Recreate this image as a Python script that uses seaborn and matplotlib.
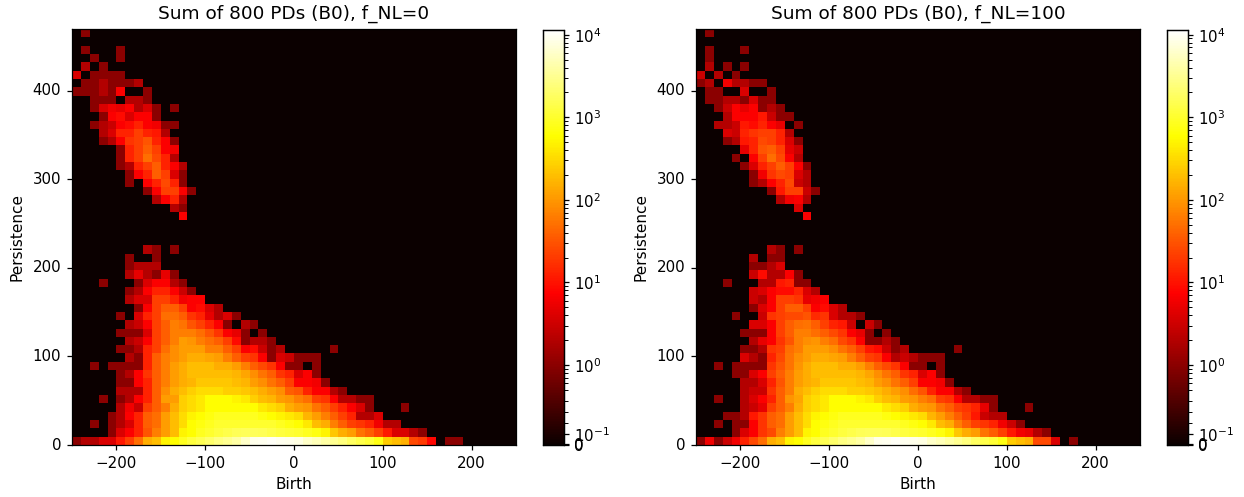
import numpy as np
import pandas as pd
import seaborn as sns
import matplotlib
matplotlib.use('Agg')
import matplotlib.pyplot as plt
from matplotlib.colors import SymLogNorm
from matplotlib.ticker import FixedLocator

n_bins = 50
birth_edges = np.arange(-250, 251, 10)
pers_max = 470

x_ticks = [-200, -100, 0, 100, 200]
y_ticks = [0, 100, 200, 300, 400]
titles = ['Sum of 800 PDs (B0), f_NL=0', 'Sum of 800 PDs (B0), f_NL=100']
# 0 shows up twice in the reference, slightly apart
cbar_ticks = [0, 0.005, 0.1, 1, 10, 100, 1000, 10000]
cbar_labels = ['0', '0', '$\\mathdefault{10^{-1}}$', '$\\mathdefault{10^{0}}$', '$\\mathdefault{10^{1}}$',
               '$\\mathdefault{10^{2}}$', '$\\mathdefault{10^{3}}$', '$\\mathdefault{10^{4}}$']

# summed counts, rows listed from the top of the plot: (first column, values)
counts_fnl0 = [
    (1, [1]), (0, []), (1, [1, 0, 0, 0, 1]), (2, [1, 0, 0, 1]), (1, [2, 0, 1]),
    (0, [4, 0, 1, 1, 1, 1]),
    (1, [1, 1, 2, 1, 1, 1, 2]),
    (0, [1, 1, 1, 2, 1, 7, 0, 0, 1]),
    (2, [1, 1, 1, 0, 2, 2, 1]),
    (2, [1, 4, 6, 5, 7, 2, 4, 1, 0, 1]),
    (3, [1, 7, 9, 4, 7, 7, 1]),
    (2, [1, 2, 3, 7, 9, 13, 7, 6, 1, 1]),
    (3, [2, 4, 13, 13, 22, 13, 11, 2]),
    (3, [1, 2, 7, 18, 22, 32, 13, 7, 1]),
    (5, [1, 13, 22, 38, 22, 7, 6]),
    (5, [1, 13, 22, 50, 26, 13, 2]),
    (5, [1, 2, 13, 22, 38, 13, 7, 2]),
    (6, [1, 7, 13, 38, 22, 4, 1]),
    (6, [1, 0, 7, 13, 26, 13, 1]),
    (8, [1, 7, 22, 22, 7, 1]),
    (9, [2, 7, 13, 2]),
    (11, [2, 1]),
    (12, [7]),
    (0, []), (0, []), (0, []),
    (8, [2, 1, 0, 1]),
    (6, [1, 0, 0, 1]),
    (6, [1, 2, 2, 2]),
    (6, [2, 5, 2, 1, 5, 1]),
    (3, [1, 0, 0, 0, 1, 4, 7, 7, 2, 1]),
    (6, [1, 2, 7, 13, 13, 7, 3, 1]),
    (6, [2, 4, 4, 22, 22, 13, 6, 7, 7]),
    (7, [1, 7, 22, 38, 38, 22, 7, 9, 4, 2]),
    (5, [1, 0, 4, 13, 22, 50, 50, 38, 18, 13, 5, 2, 4, 1]),
    (6, [2, 3, 7, 22, 38, 65, 55, 32, 22, 13, 7, 1, 0, 2, 1]),
    (5, [1, 1, 1, 4, 22, 38, 65, 65, 65, 50, 32, 18, 7, 5, 1, 0, 1]),
    (6, [2, 3, 7, 22, 38, 65, 112, 95, 65, 50, 38, 22, 9, 1, 2, 2, 1]),
    (5, [1, 1, 2, 13, 22, 50, 85, 112, 112, 112, 65, 65, 38, 22, 7, 9, 3, 1, 2, 0, 0, 0, 0, 0, 1]),
    (6, [2, 1, 13, 38, 65, 85, 112, 148, 148, 125, 112, 65, 38, 22, 18, 7, 1, 4, 3, 1, 1, 1]),
    (2, [1, 0, 1, 1, 1, 1, 13, 38, 65, 112, 148, 193, 193, 193, 148, 148, 112, 65, 38, 26, 18, 7, 1, 1, 0, 1]),
    (5, [1, 2, 7, 18, 38, 65, 112, 148, 193, 193, 193, 193, 193, 170, 125, 85, 55, 38, 18, 13, 4, 7, 1]),
    (5, [1, 1, 7, 13, 38, 65, 112, 148, 170, 225, 225, 225, 225, 193, 170, 112, 85, 55, 38, 22, 7, 7, 6, 1]),
    (5, [2, 2, 2, 13, 38, 85, 148, 193, 257, 335, 335, 335, 257, 257, 225, 193, 148, 112, 85, 38, 32, 13, 7, 7, 2, 1]),
    (3, [1, 0, 1, 2, 7, 13, 38, 112, 112, 257, 335, 420, 582, 582, 582, 500, 420, 257, 193, 170, 112, 95, 65, 50, 22, 18, 7, 2, 2, 1, 1]),
    (5, [2, 6, 3, 22, 38, 65, 148, 257, 335, 420, 582, 582, 582, 582, 582, 582, 420, 335, 257, 148, 112, 95, 55, 38, 22, 13, 7, 4, 1, 0, 0, 0, 1]),
    (4, [1, 2, 7, 13, 38, 50, 112, 193, 335, 500, 582, 700, 840, 840, 840, 840, 840, 700, 582, 500, 420, 335, 170, 112, 65, 38, 22, 13, 2, 2, 4]),
    (2, [1, 0, 1, 2, 4, 13, 38, 50, 112, 193, 335, 582, 700, 840, 1000, 1000, 1000, 1000, 1000, 1000, 1000, 840, 700, 582, 420, 193, 148, 65, 38, 22, 18, 13, 6, 2, 2]),
    (4, [1, 4, 7, 13, 32, 65, 112, 193, 500, 582, 840, 1000, 1216, 1400, 1600, 1700, 1700, 1600, 1400, 1216, 1100, 1000, 840, 700, 500, 225, 148, 112, 55, 38, 22, 11, 4, 4, 2, 1]),
    (0, [1, 2, 2, 4, 4, 11, 22, 50, 148, 193, 500, 582, 840, 1216, 1500, 2000, 2600, 3200, 4000, 6000, 9000, 9500, 10000, 9500, 9000, 8000, 6000, 5000, 4000, 3200, 2500, 1800, 1400, 1100, 750, 250, 190, 150, 26, 20, 8, 0, 1, 1]),
]

counts_fnl100 = [
    (1, [1]), (0, []), (1, [1, 0, 0, 0, 1]), (1, [1]), (1, [2, 0, 1, 0, 1]),
    (0, [3, 0, 2, 0, 1]),
    (0, [1, 2, 0, 6, 2, 2, 1, 1]),
    (1, [1, 1, 0, 0, 4, 0, 0, 1]),
    (1, [1, 1, 2, 2, 1, 4, 1, 1]),
    (2, [1, 3, 7, 5, 7, 1, 2, 1]),
    (3, [2, 7, 7, 7, 11, 3, 1, 1]),
    (2, [2, 2, 3, 11, 9, 13, 7, 5, 0, 1]),
    (3, [4, 3, 13, 18, 22, 22, 13, 2]),
    (3, [1, 2, 11, 13, 26, 22, 13, 4, 1]),
    (5, [5, 13, 32, 38, 22, 5, 3]),
    (4, [1, 0, 7, 22, 50, 26, 7, 2]),
    (5, [1, 4, 13, 22, 38, 22, 7, 1]),
    (6, [1, 6, 18, 26, 22, 4, 2]),
    (6, [1, 2, 7, 13, 26, 3, 2]),
    (8, [1, 11, 22, 22, 3, 1]),
    (9, [2, 6, 7, 2]),
    (11, [4]),
    (12, [7]),
    (0, []), (0, []), (0, []),
    (8, [2, 1, 0, 1]),
    (6, [2, 0, 1, 1]),
    (6, [1, 1, 2, 4]),
    (6, [3, 9, 2, 2, 7, 1]),
    (3, [1, 0, 0, 0, 2, 2, 11, 13, 1, 1]),
    (6, [3, 4, 7, 9, 9, 13, 4, 2]),
    (6, [3, 2, 7, 22, 22, 18, 5, 6, 7]),
    (6, [1, 4, 7, 22, 38, 38, 22, 7, 9, 4, 2]),
    (4, [1, 0, 0, 3, 18, 22, 26, 26, 32, 15, 18, 4, 2, 2, 1]),
    (6, [4, 4, 7, 22, 38, 50, 55, 38, 22, 13, 11, 3, 0, 3, 1]),
    (5, [1, 1, 1, 7, 22, 38, 65, 65, 50, 38, 26, 18, 7, 5, 1, 0, 1]),
    (6, [2, 5, 7, 18, 32, 65, 85, 95, 65, 50, 26, 18, 7, 1, 1, 2, 1]),
    (5, [1, 1, 2, 18, 22, 50, 65, 112, 112, 112, 85, 55, 38, 22, 11, 9, 3, 1, 2, 0, 0, 0, 0, 0, 1]),
    (5, [4, 2, 1, 13, 26, 55, 85, 112, 148, 148, 125, 112, 65, 38, 22, 18, 7, 2, 3, 2, 1, 1, 1]),
    (2, [1, 0, 1, 1, 1, 1, 18, 32, 55, 95, 148, 193, 193, 193, 148, 148, 112, 65, 38, 26, 18, 7, 1, 1, 0, 1]),
    (4, [1, 1, 4, 7, 22, 38, 65, 112, 148, 193, 193, 193, 193, 193, 170, 125, 85, 55, 38, 18, 13, 4, 7, 1]),
    (5, [2, 2, 4, 13, 32, 65, 112, 148, 170, 225, 225, 225, 225, 193, 170, 112, 85, 55, 38, 22, 7, 7, 6, 1]),
    (5, [2, 3, 3, 18, 38, 65, 148, 193, 257, 335, 335, 335, 257, 257, 225, 193, 148, 112, 85, 50, 32, 13, 7, 7, 2, 1]),
    (2, [1, 0, 0, 2, 4, 7, 13, 38, 95, 125, 257, 335, 420, 582, 582, 582, 500, 420, 257, 193, 170, 112, 95, 65, 50, 22, 18, 7, 2, 2, 1, 1]),
    (5, [2, 3, 5, 22, 38, 65, 148, 257, 335, 420, 582, 582, 582, 582, 582, 582, 420, 335, 257, 148, 112, 95, 55, 38, 22, 18, 13, 5, 1, 0, 0, 0, 1]),
    (3, [1, 1, 2, 11, 18, 38, 50, 112, 193, 335, 500, 582, 700, 840, 840, 840, 840, 840, 700, 582, 500, 420, 335, 170, 112, 65, 38, 22, 11, 3, 2, 2]),
    (2, [1, 0, 1, 1, 7, 18, 38, 50, 112, 193, 335, 582, 700, 840, 1000, 1000, 1000, 1000, 1000, 1000, 1000, 840, 700, 582, 420, 193, 148, 65, 38, 22, 18, 13, 6, 3, 1]),
    (4, [1, 4, 7, 18, 26, 65, 112, 193, 500, 582, 840, 1000, 1216, 1400, 1600, 1700, 1700, 1600, 1400, 1216, 1100, 1000, 840, 700, 500, 225, 148, 112, 55, 38, 22, 11, 6, 5, 2, 1]),
    (0, [1, 6, 1, 3, 6, 13, 26, 50, 148, 193, 500, 582, 840, 1216, 1500, 2000, 2600, 3200, 4000, 6000, 9000, 9500, 10000, 9500, 9000, 8000, 6000, 5000, 4000, 3200, 2500, 1800, 1400, 1100, 750, 250, 190, 150, 26, 26, 4, 0, 1]),
]


def to_frame(rows):
    grid = np.zeros((n_bins, n_bins))
    for i, (start, values) in enumerate(rows):
        grid[i, start:start + len(values)] = values
    return pd.DataFrame(grid)


W, H = 1244, 497
fig = plt.figure(figsize=(W / 100, H / 100), dpi=100)
fig.patch.set_facecolor('white')

panels = [(counts_fnl0, titles[0], 72, 543), (counts_fnl100, titles[1], 696, 1167)]
for rows, title, left, cbar_left in panels:
    ax = fig.add_axes([left / W, 1 - 445 / H, 444 / W, 416 / H])
    cax = fig.add_axes([cbar_left / W, 1 - 445 / H, 21 / W, 415 / H])
    norm = SymLogNorm(linthresh=0.5, linscale=0.6, vmin=0, vmax=11400)
    sns.heatmap(to_frame(rows), ax=ax, cbar_ax=cax, cmap='hot', norm=norm)

    ax.set_xticks([(x - birth_edges[0]) / 10 for x in x_ticks])
    ax.set_xticklabels([str(x).replace('-', '\u2212') for x in x_ticks], rotation=0)
    ax.set_yticks([n_bins - y / (pers_max / n_bins) for y in y_ticks])
    ax.set_yticklabels(y_ticks, rotation=0)
    ax.tick_params(length=3.9, width=0.9, labelsize=10.8, pad=3.8)
    ax.set_xlabel('Birth', fontsize=11, labelpad=4.2)
    ax.set_ylabel('Persistence', fontsize=11, labelpad=5.8)
    ax.set_title(title, fontsize=13.3, pad=7.5)
    for spine in ax.spines.values():
        spine.set_visible(True)
        spine.set_linewidth(0.9)

    cax.yaxis.set_major_locator(FixedLocator(cbar_ticks))
    cax.set_yticklabels(cbar_labels)
    minor = [0.2, 0.3, 0.4, 0.5, 0.6, 0.7, 0.8, 0.9]
    for dec in [1, 10, 100, 1000]:
        minor += [dec * k for k in range(2, 10)]
    cax.yaxis.set_minor_locator(FixedLocator(minor))
    cax.tick_params(which='major', length=3.9, width=0.9, labelsize=10.8)
    cax.tick_params(which='minor', length=2.8, width=0.7)
    for spine in cax.spines.values():
        spine.set_visible(True)
        spine.set_linewidth(0.9)

fig.savefig('out.png', dpi=100)
